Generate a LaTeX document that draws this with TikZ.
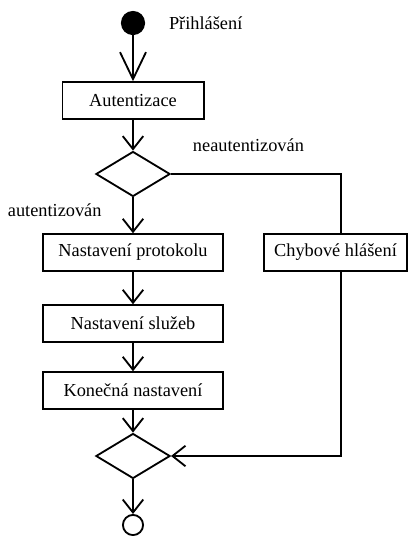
\documentclass[tikz,border=0pt]{standalone}
\usepackage{fontspec}
\setmainfont{Liberation Serif}
\usetikzlibrary{shapes.geometric, arrows.meta, positioning}

\begin{document}
\begin{tikzpicture}[>={Straight Barb[length=7.8pt, width=12.3pt]}, line width=1.1pt, font=\fontsize{11}{13}\selectfont]
        % Style des noeuds
        \tikzstyle{etape} = [rectangle, draw, minimum height=22pt, inner sep=0pt]
        \tikzstyle{choix} = [diamond, draw, minimum width=44.5pt, minimum height=27pt, inner sep=0pt]
        \tikzstyle{debut} = [circle, draw, fill=black, minimum size=13.4pt, inner sep=0pt]
        \tikzstyle{fin} = [circle, draw, minimum size=12.1pt, inner sep=0pt]

        \useasboundingbox (0,0) rectangle (246pt,-321.6pt);

        % Définition des noeuds
        \node[debut] (start) at (79.8pt,-13.8pt) {};
        \node[etape, minimum width=84.7pt] (auth) [below of=start, node distance=46.5pt] {Autentizace};
        \node[choix] (d1) [below of=auth, node distance=44.1pt] {};
        \node[etape, minimum width=108.1pt] (prot) [below of=d1, node distance=47.1pt] {Nastavení protokolu};
        \node[etape, minimum width=108.1pt] (sluz) [below of=prot, node distance=42.6pt] {Nastavení služeb};
        \node[etape, minimum width=108.1pt] (kon) [below of=sluz, node distance=40.2pt] {Konečná nastavení};
        \node[choix] (d2) [below of=kon, node distance=39.3pt] {};
        \node[fin] (end) [below of=d2, node distance=41.4pt] {};
        \node[etape, minimum width=86pt] (chyb) [right of=prot, node distance=121.5pt] {Chybové hlášení};

        % Textes
        \node (prihl) [right=10.5pt of start] {Přihlášení};
        \node (neaut) [above right=9.3pt and 9.3pt of d1.east] {neautentizován};
        \node (aut) [below left=0pt and 15pt of d1.south] {autentizován};

        % Arcs entre les noeuds
        \draw[-{Straight Barb[length=16.2pt, width=15.6pt]}] (start) -- (auth);
        \draw[->] (auth) -- (d1);
        \draw[->] (d1) -- (prot);
        \draw[->] (prot) -- (sluz);
        \draw[->] (sluz) -- (kon);
        \draw[->] (kon) -- (d2);
        \draw[->] (d2) -- (end);

        % Branche d'erreur
        \draw (d1.east) -| ([xshift=3.3pt]chyb.north);
        \draw[->] ([xshift=3.3pt]chyb.south) |- (d2.east);

    \end{tikzpicture}
\end{document}
